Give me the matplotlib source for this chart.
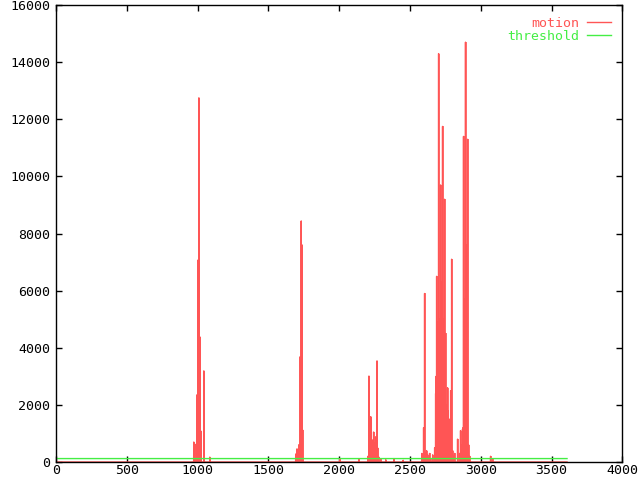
import numpy as np
import matplotlib
matplotlib.use("Agg")
import matplotlib.pyplot as plt

# Motion per frame (all other frames are 0)
n_frames = 3610
threshold = 120

spike_frames = [973, 980, 995, 1002, 1009, 1016, 1023, 1044, 1086,
                1693, 1700, 1707, 1714, 1725, 1732, 1738, 1742,
                2004, 2138, 2205, 2210, 2217, 2224, 2231, 2236, 2243, 2250,
                2257, 2267, 2272, 2279, 2293, 2329, 2387, 2452, 2583,
                2596, 2603, 2610, 2617, 2624, 2631, 2638, 2645, 2660, 2674,
                2681, 2685, 2688, 2692, 2695, 2699, 2702, 2706, 2709, 2713,
                2716, 2720, 2723, 2727, 2730, 2734, 2737, 2741, 2744, 2748,
                2751, 2755, 2758, 2762, 2765, 2769, 2772, 2780, 2787, 2794,
                2801, 2808, 2815, 2836, 2850, 2857, 2864, 2871, 2875, 2878,
                2882, 2885, 2889, 2892, 2896, 2900, 2903, 2907, 2914, 2921,
                3069, 3083]
spike_values = [700, 630, 2350, 7070, 12750, 4380, 1085, 3190, 170,
                280, 455, 450, 600, 3690, 8440, 7600, 1120,
                100, 100, 210, 3010, 1580, 1580, 420, 770, 1050, 660,
                880, 3540, 490, 175, 100, 80, 120, 60, 300,
                1200, 5900, 300, 400, 250, 150, 300, 100, 250, 500,
                2400, 3000, 6500, 4500, 2000, 4900, 14300, 2500, 5000, 3500,
                9700, 4800, 6300, 2000, 11750, 3000, 5000, 1500, 9200, 3800,
                4500, 1000, 2000, 600, 2600, 1800, 300, 1500, 2500, 7100,
                400, 200, 300, 800, 300, 1100, 600, 1150, 1200, 11400,
                3000, 5700, 4000, 14700, 5000, 7600, 3000, 11300, 600, 200,
                200, 100]

red = "#ff5555"
green = "#44ee44"

frames = np.arange(n_frames)
motion = np.zeros(n_frames)
motion[spike_frames] = spike_values
thresh = np.full(n_frames, threshold)

fig = plt.figure(figsize=(6.4, 4.8), dpi=100)
ax = fig.add_axes([0.0875, 0.0375, 0.885, 0.952])

ax.plot(frames, motion, color=red, lw=1.0, label="motion")
ax.vlines(spike_frames, 0, spike_values, color=red, lw=1.1)
ax.plot(frames, thresh, color=green, lw=1.0, label="threshold")

ax.set_xlim(0, 4000)
ax.set_ylim(0, 16000)
ax.set_xticks(range(0, 4001, 500))
ax.set_yticks(range(0, 16001, 2000))

for s in ax.spines.values():
    s.set_linewidth(1.0)
ax.tick_params(direction="in", top=True, right=True, length=4, width=1,
               labelsize=9.5)
ax.tick_params(axis="x", pad=1.5)
ax.tick_params(axis="y", pad=4)
for lab in ax.get_xticklabels() + ax.get_yticklabels():
    lab.set_family("DejaVu Sans Mono")

leg = ax.legend(loc="upper right", frameon=False, markerfirst=False,
                labelcolor="linecolor", handlelength=1.8, handletextpad=0.6,
                labelspacing=0.0, borderaxespad=0.5,
                prop={"family": "DejaVu Sans Mono", "size": 9.5})

fig.savefig("out.png")
